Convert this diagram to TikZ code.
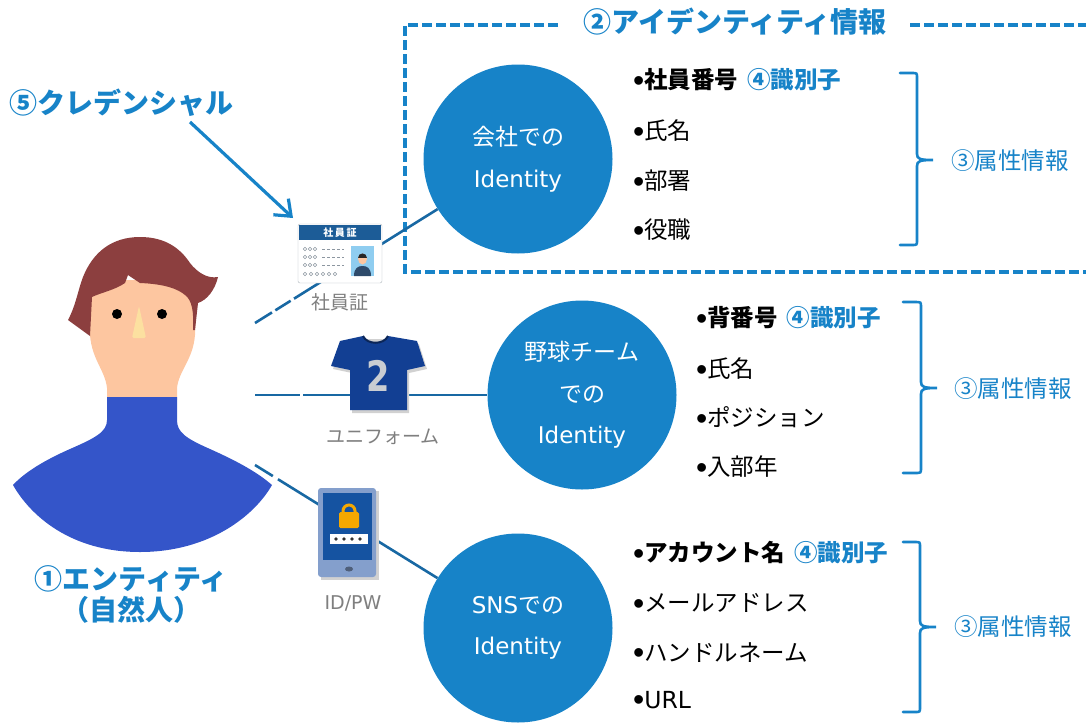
\documentclass[tikz,border=0pt]{standalone}
\usepackage{fontspec}
\setmainfont{Noto Sans CJK JP}
\newfontfamily\latin{DejaVu Sans}
\newfontfamily\bulletfont{Liberation Sans}
\newcommand\itembullet{\raisebox{-2.5pt}{\bulletfont\fontsize{32}{28}\selectfont •}}
\usetikzlibrary{arrows.meta}

\definecolor{idblue}{HTML}{1783C8}
\definecolor{linkblue}{HTML}{1868A3}
\definecolor{capgray}{HTML}{7F7F7F}
\definecolor{hair}{HTML}{8C3F3F}
\definecolor{skin}{HTML}{FDC6A0}
\definecolor{nose}{HTML}{FCE0A0}
\definecolor{shirt}{HTML}{3455C9}
\definecolor{cardblue}{HTML}{1C5C97}
\definecolor{cardgray}{HTML}{8C96A0}
\definecolor{photoblue}{HTML}{8FCDF0}
\definecolor{suit}{HTML}{2E4A6A}
\definecolor{jersey}{HTML}{123F93}
\definecolor{silver}{HTML}{C9CDD2}
\definecolor{phonebody}{HTML}{849FCC}
\definecolor{phonescreen}{HTML}{1553A1}
\definecolor{lockorange}{HTML}{F5A800}

\begin{document}
\begin{tikzpicture}[x=1pt, y=-1pt,
	idcircle/.style={circle, fill=idblue, minimum size=189pt, inner sep=0pt, text=white, align=center, font=\fontsize{23}{41.5}\selectfont},
	item/.style={anchor=west, inner sep=0pt, font=\fontsize{23.5}{28}\selectfont},
	attr/.style={text=idblue, font=\fontsize{23.5}{28}\selectfont},
	callout/.style={text=idblue, font=\bfseries\fontsize{28}{31}\selectfont},
	caption/.style={text=capgray, font=\fontsize{19}{22}\selectfont},
	link/.style={draw=linkblue, line width=2.6pt},
	idbox/.style={draw=idblue, line width=3.6pt, dash pattern=on 10pt off 4pt},
	brace/.style={draw=idblue, line width=2.6pt, line cap=round},
	credarrow/.style={draw=idblue, line width=3.2pt, -{Straight Barb[length=14pt, width=22pt]}}]
	
	\useasboundingbox (0,0) rectangle (1086,723);
	
	% identity information frame
	\node[callout] (idinfo) at (735,22) {②アイデンティティ情報};
	\draw[idbox] (558,25) -- (405,25) -- (405,272) -- (1090,272);
	\draw[idbox] (910,25) -- (1090,25);
	
	% the three identities
	\node[idcircle] (company) at (518,159) {会社での\\{\latin Identity}};
	\node[idcircle] (team) at (582,395) {野球チーム\\での\\{\latin Identity}};
	\node[idcircle] (sns) at (518,628) {{\latin SNS}での\\{\latin Identity}};
	
	% entity
	\fill[skin] (90,280) -- (90,335) .. controls (92,360) and (105,370) .. (107,388) -- (107,400) -- (177,400) -- (177,388) .. controls (179,370) and (193,360) .. (195,335) -- (197,280) -- cycle;
	\fill[shirt] (107,397) -- (107,420) .. controls (107,432) and (95,438) .. (70,449) .. controls (45,460) and (25,472) .. (13,485) .. controls (30,515) and (70,552) .. (140,552) .. controls (210,552) and (255,515) .. (272,485) .. controls (255,470) and (230,458) .. (210,449) .. controls (185,438) and (177,432) .. (177,420) -- (177,397) -- cycle;
	\fill[hair] (90,336) -- (68,320) .. controls (76,305) and (78,290) .. (83,277) .. controls (93,252) and (112,237) .. (140,237) .. controls (165,237) and (180,248) .. (190,263) .. controls (197,272) and (207,279) .. (218,277) .. controls (215,290) and (207,300) .. (198,303) -- (195,330) -- (193,330) .. controls (194,312) and (192,300) .. (185,295) .. controls (178,289) and (165,284) .. (140,283) -- (128,275) -- (125,283) .. controls (115,290) and (100,293) .. (92,297) -- cycle;
	\fill[black] (117,314) circle (5);
	\fill[black] (162,314) circle (5);
	\fill[nose, rounded corners=1.5pt] (139,306) -- (146,338) -- (132,338) -- cycle;
	\node[callout, align=center] (entity) at (131,594) {①エンティティ\\（自然人）};
	
	% links from the entity to each identity
	\coordinate (p1) at (255,323);
	\coordinate (p2) at (255,395);
	\coordinate (p3) at (255,465);
	\draw[link, dash pattern=on 20pt off 4pt on 18pt off 4pt on 600pt] (p1) -- (company);
	\draw[link, dash pattern=on 45pt off 3pt on 600pt] (p2) -- (team);
	\draw[link, dash pattern=on 21pt off 6pt on 600pt] (p3) -- (sns);
	
	% staff ID card
	\draw[cardgray!70, fill=white, rounded corners=2pt] (298,224) rectangle (382,283);
	\fill[cardblue] (299,225) rectangle (381,240);
	\node[text=white, font=\bfseries\fontsize{10}{10}\selectfont] (cardtitle) at (340,232.5) {社\,員\,証};
	\foreach \y in {249,257,265} {
		\foreach \x in {305,310,315} \draw[cardgray, line width=0.6pt] (\x,\y) circle (1.7);
		\draw[cardgray, line width=0.8pt, dash pattern=on 3pt off 2pt] (322,\y) -- (344,\y);
	}
	\foreach \x in {305,311,317,323,329,335} \draw[cardgray, line width=0.6pt] (\x,274) circle (1.8);
	\fill[photoblue] (351,246) rectangle (374,276);
	\fill[suit] (354,276) .. controls (354,268) and (358,266) .. (362.5,266) .. controls (367,266) and (371,268) .. (371,276) -- cycle;
	\fill[skin] (362.5,259) ellipse (4.5 and 5.5);
	\fill[black!85] (358,258) .. controls (358,252) and (367,252) .. (367,258) -- cycle;
	\node[caption] (cardcap) at (340,302) {社員証};
	
	% team uniform
	\fill[black!18] (365,339) -- (342,344) -- (333,369) -- (352,373) -- (352,413) -- (409,413) -- (409,373) -- (427,369) -- (419,344) -- (390,339) -- cycle;
	\fill[jersey] (363,336) -- (340,341) -- (331,366) -- (350,370) -- (350,410) -- (407,410) -- (407,370) -- (425,366) -- (417,341) -- (388,336) .. controls (384,345) and (367,345) .. (363,336) -- cycle;
	\draw[jersey!60!black, line width=2pt] (363,336) .. controls (367,345) and (384,345) .. (388,336);
	\node[text=silver, font=\latin\bfseries\fontsize{42}{42}\selectfont, xscale=0.8, transform shape] (number) at (378,376) {2};
	\node[caption] (jerseycap) at (383,437) {ユニフォーム};
	
	% smartphone with password
	\fill[black!18] (321,491) rectangle (379,580);
	\fill[phonebody, rounded corners=3pt] (318,488) rectangle (376,577);
	\fill[phonescreen] (323,493) rectangle (372,560);
	\draw[lockorange, line width=3pt] (343,514) -- (343,511) arc (180:360:6) -- (355,514);
	\fill[lockorange, rounded corners=1.5pt] (339,512) rectangle (359,528);
	\fill[white] (330,534) rectangle (368,544);
	\foreach \x in {336,344,352,360} \fill[black!80] (\x,539) circle (1.8);
	\fill[phonebody!60!black] (349,569) ellipse (4 and 2.5);
	\node[caption, font=\latin\fontsize{19}{22}\selectfont] (pwcap) at (353,603) {ID/PW};
	
	% credential
	\node[callout, anchor=west] (credential) at (6,103) {⑤クレデンシャル};
	\coordinate (arrowstart) at (190,122);
	\coordinate (cardtop) at (293,218);
	\draw[credarrow] (arrowstart) -- (cardtop);
	
	% attributes of the company identity
	\node[item] (staffno) at (633,80) {\itembullet\textbf{社員番号}\hspace{9pt}\textcolor{idblue}{\textbf{④識別子}}};
	\node[item] (name1) at (633,131) {\itembullet 氏名};
	\node[item] (dept) at (633,181) {\itembullet 部署};
	\node[item] (post) at (633,230) {\itembullet 役職};
	\draw[brace] (900,73) -- (912,73) .. controls (917,73) .. (917,78) -- (917,154) .. controls (917,159) and (920,160) .. (933,160) .. controls (920,160) and (917,161) .. (917,166) -- (917,240) .. controls (917,245) .. (912,245) -- (900,245);
	\node[attr] (attr1) at (1010,161) {③属性情報};
	
	% attributes of the team identity
	\node[item] (backno) at (696,318) {\itembullet\textbf{背番号}\hspace{9pt}\textcolor{idblue}{\textbf{④識別子}}};
	\node[item] (name2) at (696,369) {\itembullet 氏名};
	\node[item] (position) at (696,418) {\itembullet ポジション};
	\node[item] (joined) at (696,467) {\itembullet 入部年};
	\draw[brace] (903,302) -- (915,302) .. controls (921,302) .. (921,307) -- (921,382) .. controls (921,387) and (924,388) .. (937,388) .. controls (924,388) and (921,389) .. (921,394) -- (921,468) .. controls (921,473) .. (915,473) -- (903,473);
	\node[attr] (attr2) at (1013,389) {③属性情報};
	
	% attributes of the SNS identity
	\node[item] (account) at (633,553) {\itembullet\textbf{アカウント名}\hspace{9pt}\textcolor{idblue}{\textbf{④識別子}}};
	\node[item] (mail) at (633,604) {\itembullet メールアドレス};
	\node[item] (handle) at (633,653) {\itembullet ハンドルネーム};
	\node[item] (url) at (633,701) {\itembullet{\latin URL}};
	\draw[brace] (903,542) -- (915,542) .. controls (920,542) .. (920,547) -- (920,621) .. controls (920,626) and (923,627) .. (936,627) .. controls (923,627) and (920,628) .. (920,633) -- (920,707) .. controls (920,712) .. (915,712) -- (903,712);
	\node[attr] (attr3) at (1013,627) {③属性情報};
	
\end{tikzpicture}
\end{document}
